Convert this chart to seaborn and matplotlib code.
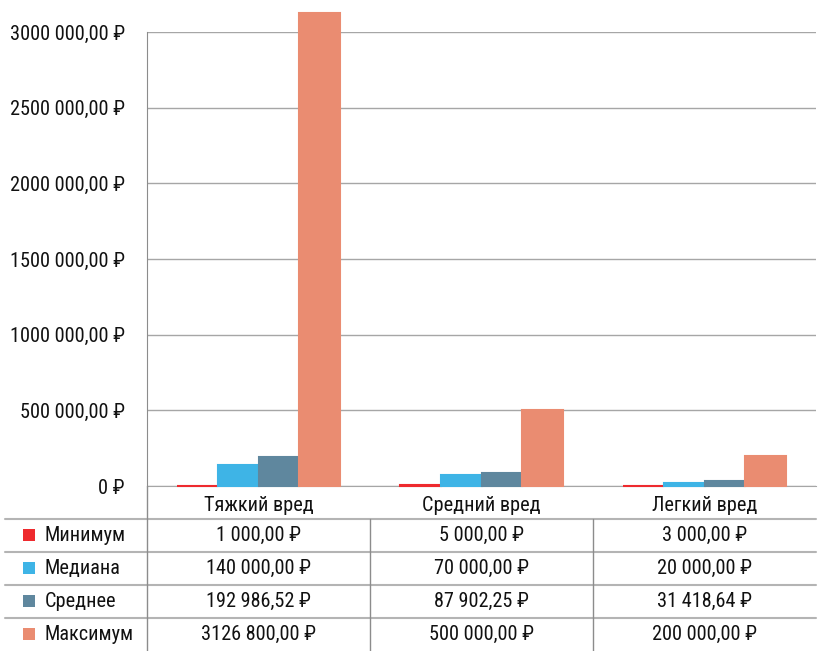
import pandas as pd
import matplotlib.pyplot as plt
import seaborn as sns
from matplotlib import font_manager

# Data
categories = ["Тяжкий вред", "Средний вред", "Легкий вред"]
series = ["Минимум", "Медиана", "Среднее", "Максимум"]
minimum = [1000.00, 5000.00, 3000.00]
median = [140000.00, 70000.00, 20000.00]
mean = [192986.52, 87902.25, 31418.64]
maximum = [3126800.00, 500000.00, 200000.00]
yticks = [0, 500000, 1000000, 1500000, 2000000, 2500000, 3000000]
colors = ["#EE2A2E", "#3EB4E6", "#5F879E", "#EA8C71"]

values = {"Минимум": minimum, "Медиана": median, "Среднее": mean, "Максимум": maximum}
rows = []
for s in series:
    for c, v in zip(categories, values[s]):
        rows.append({"cat": c, "series": s, "value": v})
df = pd.DataFrame(rows)


def rub(v):
    whole = int(v)
    frac = round((v - whole) * 100)
    s = f"{whole:d}"
    if whole >= 1000:
        s = s[:-3] + " " + s[-3:]
    return f"{s},{frac:02d} ₽"


sns.set_style("white")
names = {f.name for f in font_manager.fontManager.ttflist}
candidates = ["Roboto Condensed", "Liberation Sans Narrow", "Open Sans Condensed",
              "Liberation Sans", "Roboto"]
main = next((c for c in candidates if c in names), "DejaVu Sans")
plt.rcParams["font.family"] = [main, "DejaVu Sans"]
fs = 13 if main in ("Liberation Sans", "Roboto") else 14.6

W, H = 826, 651
fig = plt.figure(figsize=(W / 100, H / 100), dpi=100)
x0, x1, y0, y1 = 147, 816, 486, 32
ax = fig.add_axes([x0 / W, 1 - y0 / H, (x1 - x0) / W, (y0 - y1) / H])

sns.barplot(data=df, x="cat", y="value", hue="series", palette=colors,
            width=0.727, gap=0, ax=ax, legend=False, saturation=1)
for p in ax.patches:
    p.set_clip_on(False)
    p.set_edgecolor(p.get_facecolor())
    p.set_linewidth(1.5)
    p.set_zorder(3)

ax.set_ylim(0, 3000000)
ax.set_xlim(-0.5, 2.5)
ax.set_yticks(yticks)
ax.set_yticklabels(["0 ₽" if t == 0 else f"{t // 1000} 000,00 ₽" for t in yticks])
ax.yaxis.grid(True, color="#A6A6A6", lw=1)
ax.set_axisbelow(True)
ax.set_xlabel("")
ax.set_ylabel("")
ax.tick_params(axis="both", length=0, labelsize=fs, colors="#111111")
ax.tick_params(axis="y", pad=16)
ax.tick_params(axis="x", pad=7)
for s in ["top", "right"]:
    ax.spines[s].set_visible(False)
ax.spines["left"].set_color("#8C8C8C")
ax.spines["bottom"].set_color("#A6A6A6")
ax.spines["bottom"].set_zorder(0.5)

# Data table below the chart
tax = fig.add_axes([0, 0, 1, 1 - 519 / H + 0.0001])
tax.set_xlim(0, W)
tax.set_ylim(H, 519)
tax.axis("off")
row_h = 33
col_edges = [147, 370, 593, 816]
for i in range(4):
    y = 519 + i * row_h
    tax.plot([5, 816], [y, y], color="#B4B4B4", lw=1.5, clip_on=False)
tax.plot([147, 147], [486, 651], color="#8C8C8C", lw=1, clip_on=False)
for xe in col_edges[1:3]:
    tax.plot([xe, xe], [519, 651], color="#8C8C8C", lw=1, clip_on=False)

for i, s in enumerate(series):
    yc = 519 + i * row_h + row_h / 2
    tax.scatter([29], [yc], marker="s", s=75, color=colors[i], linewidths=0)
    tax.text(45, yc, s, fontsize=fs, ha="left", va="center", color="#111111")
    for j in range(3):
        xc = (col_edges[j] + col_edges[j + 1]) / 2
        tax.text(xc, yc, rub(values[s][j]), fontsize=fs, ha="center", va="center",
                 color="#111111")

fig.savefig("out.png", dpi=100)
